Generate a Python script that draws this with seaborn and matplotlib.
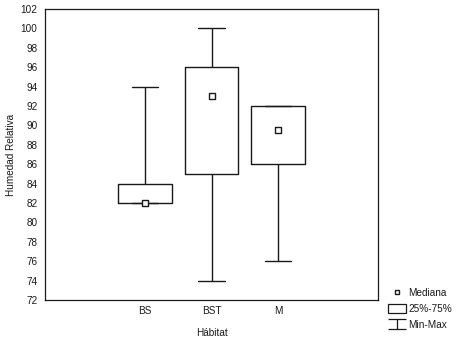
import matplotlib
matplotlib.use('Agg')
import matplotlib.pyplot as plt
from matplotlib.lines import Line2D
from matplotlib.patches import Rectangle
from matplotlib.path import Path
import numpy as np
import pandas as pd
import seaborn as sns

habitats = ['BS', 'BST', 'M']
# min, q1, median, q3, max for each habitat (5 points -> exact quartiles)
bs_vals = [82, 82, 82, 84, 94]
bst_vals = [74, 85, 93, 96, 100]
m_vals = [76, 86, 89.5, 92, 92]
medians = [82, 93, 89.5]
yticks = list(range(72, 103, 2))
legend_labels = ['Mediana', '25%-75%', 'Min-Max']

df = pd.DataFrame({
    'Hábitat': [h for h, v in zip(habitats, [bs_vals, bst_vals, m_vals]) for _ in v],
    'Humedad Relativa': bs_vals + bst_vals + m_vals,
})

sns.set_style('white')
plt.rcParams['font.family'] = ['Liberation Sans', 'DejaVu Sans']
ink = '#1a1a1a'

fig = plt.figure(figsize=(4.58, 3.44), dpi=100)
ax = fig.add_axes([0.0983, 0.128, 0.727, 0.846])

sns.boxplot(data=df, x='Hábitat', y='Humedad Relativa', order=habitats,
            whis=(0, 100), width=0.8, fill=False, color=ink, linecolor=ink,
            linewidth=1.0, showfliers=False,
            medianprops={'linewidth': 0}, ax=ax)

sns.scatterplot(x=np.arange(len(habitats)), y=medians, marker='s', s=14,
                color='white', edgecolor=ink, linewidth=1.0, zorder=5,
                legend=False, ax=ax)

ax.set_xlim(-1.5, 3.5)
ax.set_xticks([-1, 0, 1, 2, 3])
ax.set_xticklabels([''] + habitats + [''])
ax.set_ylim(72, 102)
ax.set_yticks(yticks)
ax.tick_params(axis='both', direction='out', length=3.5, width=0.8,
               colors=ink, labelsize=7.2, pad=2)
ax.tick_params(axis='x', pad=0.5)
ax.set_xlabel('Hábitat', fontsize=7.2, color=ink, labelpad=9)
ax.set_ylabel('Humedad Relativa', fontsize=7.2, color=ink, labelpad=3.5)
for sp in ax.spines.values():
    sp.set_visible(True)
    sp.set_color(ink)
    sp.set_linewidth(0.9)

# I-beam symbol for the min-max whisker
whisker_marker = Path([(-1, 0.53), (1, 0.53), (0, 0.53), (0, -0.53), (-1, -0.53), (1, -0.53)],
                      [Path.MOVETO, Path.LINETO, Path.MOVETO, Path.LINETO,
                       Path.MOVETO, Path.LINETO])
handles = [
    Line2D([], [], marker='s', linestyle='none', markerfacecolor='white',
           markeredgecolor=ink, markersize=3.5, markeredgewidth=1.0),
    Rectangle((0, 0), 1, 1, facecolor='white', edgecolor=ink, linewidth=0.9),
    Line2D([], [], marker=whisker_marker, linestyle='none', color=ink,
           markersize=12.5, markeredgewidth=0.9),
]
fig.legend(handles, legend_labels, loc='upper left',
           bbox_to_anchor=(0.832, 0.183), frameon=False, fontsize=7.2,
           handlelength=1.75, handleheight=1.0, handletextpad=0.3,
           labelspacing=0.6, borderpad=0.2, labelcolor=ink)

fig.savefig('out.png', dpi=100, facecolor='white')
